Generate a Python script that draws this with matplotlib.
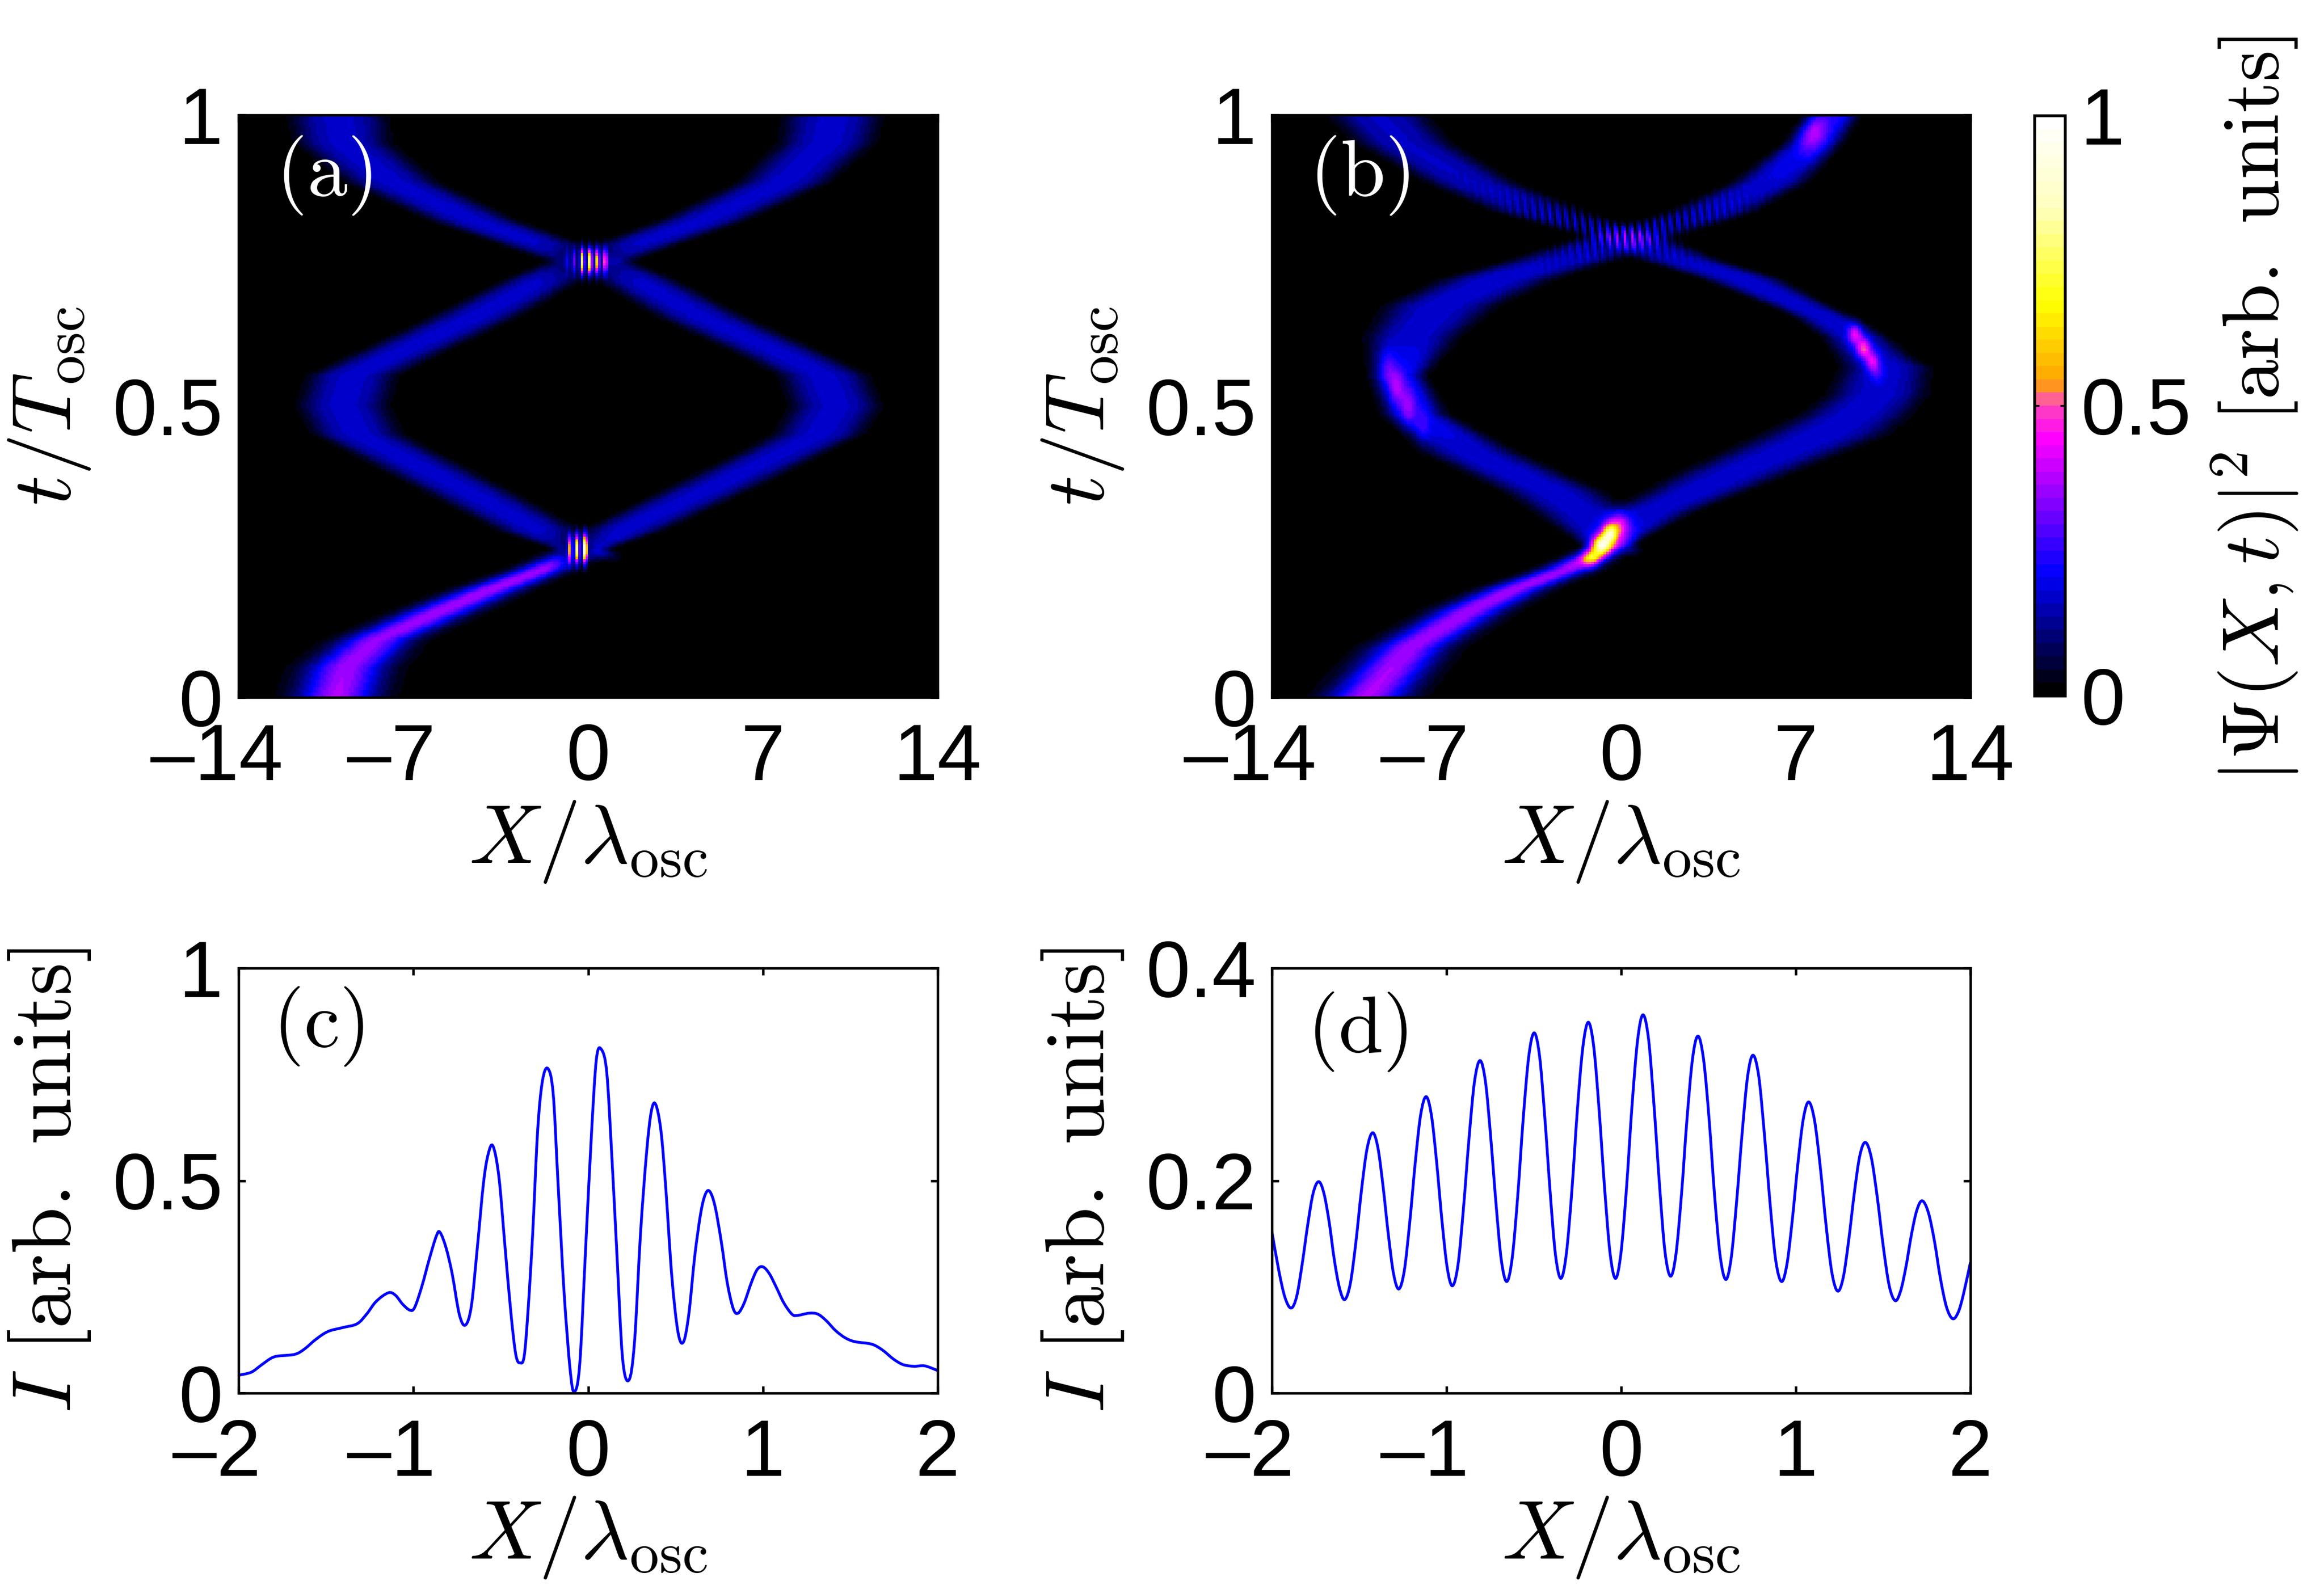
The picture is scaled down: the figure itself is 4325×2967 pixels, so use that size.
# Density maps (a,b) and intensity cuts (c,d)
import numpy as np
import matplotlib
matplotlib.use('Agg')
import matplotlib.pyplot as plt
from matplotlib.colors import LinearSegmentedColormap
from matplotlib.patches import PathPatch
from matplotlib.path import Path
from matplotlib.transforms import ScaledTranslation

W, H = 4325, 2967
plt.rcParams['font.family'] = ['Liberation Sans', 'DejaVu Sans']
plt.rcParams['mathtext.fontset'] = 'cm'

# colour bar: position, colour
bar_pos = [0, .205, .443, .496, .518, .54, .68, .85, 1]
bar_col = [(0, 0, 0), (0, 0, 1), (1, 0, 1), (1, .25, .75), (1, .44, .5),
           (1, .63, 0), (1, 1, 0), (1, 1, .75), (1, 1, 1)]

# panel (a) ridges. The profile across them is an approximation
a1_t = [0, .05, .097, .15, .184, .218, .245, .254, .285, .352, .419, .452, .5, .553, .586, .653, .72, .75, .82, .887, .954, 1]
a1_x = [-10.1, -9.7, -8.5, -5.75, -3.9, -1.83, -.5, -.3, 1.35, 4.6, 7.8, 9.28, 9.97, 9.47, 8.0, 4.6, 1.8, .08, -4.6, -7.9, -9.85, -10.04]
a1_s = [1.05, 1.05, .95, .9, .82, .72, .68, .7, 1.0, 1.05, 1.05, 1.08, 1.1, 1.08, 1.05, 1.05, .95, 1.0, 1.05, 1.1, 1.15, 1.2]
a1_a = [.37, .36, .35, .36, .36, .36, .34, .2, .165, .165, .165, .165, .165, .165, .165, .165, .165, .165, .165, .165, .165, .165]
a2_t = [.23, .254, .285, .352, .419, .452, .5, .553, .586, .653, .72, .75, .82, .887, .954, 1]
a2_x = [.8, -.3, -1.9, -4.8, -7.8, -9.28, -9.86, -9.47, -7.9, -4.6, -1.7, .08, 4.6, 7.9, 9.6, 9.84]
a2_s = [.6, .7, 1.0, 1.05, 1.05, 1.08, 1.1, 1.08, 1.05, 1.05, .95, 1.0, 1.05, 1.1, 1.15, 1.2]
a2_a = [0, .165, .165, .165, .165, .165, .165, .165, .165, .165, .165, .165, .165, .165, .165, .165]
# bright fringes: X, t, width in X, width in t, height
a_spot_x = [-.74, -.44, -.12, -.84, -.56, -.24, .07, .37, .69]
a_spot_t = [.254, .254, .254, .75, .75, .75, .75, .75, .75]
a_spot_sx = [.06] * 9
a_spot_st = [.016, .016, .016, .015, .015, .015, .015, .015, .015]
a_spot_a = [.5, .78, 1.0, .12, .25, .75, .8, .6, .45]
# dark gaps between fringes: X, t, width in X, width in t
a_gap_x = [-.4, -.07]
a_gap_t = [.254, .75]
a_gap_sx = [.6, .85]
a_gap_st = [.024, .024]

# panel (b) ridges
b1_t = [0, .084, .15, .184, .218, .238, .258, .318, .385, .452, .486, .519, .566, .586, .62, .653, .673, .72, .753, .794, .834, .887, .954, 1]
b1_x = [-10.2, -8.5, -5.95, -4.3, -2.2, -1.3, -.6, 1.2, 4.6, 8.2, 9.45, 10.3, 10.65, 10.15, 9.4, 8.2, 7.2, 4.8, 2.3, .1, -3.15, -6.1, -8.75, -9.77]
b1_s = [1.05, .98, .9, .8, .7, .6, .55, 1.08, 1.37, 1.54, 1.31, 1.2, 1.08, .91, .8, .74, .74, .97, .97, 1.03, 1.14, 1.08, 1.14, 1.2]
b1_a = [.37, .36, .36, .36, .36, .4, .2, .17, .17, .17, .17, .17, .17, .17, .17, .17, .17, .17, .17, .17, .16, .16, .16, .16]
b2_t = [.24, .26, .318, .352, .419, .486, .553, .62, .673, .72, .753, .794, .834, .887, .954, 1]
b2_x = [.2, -.4, -1.6, -2.7, -6, -8.3, -9, -8.4, -7.25, -4.9, -2.2, .4, 3.55, 6, 7.75, 8.5]
b2_s = [.5, .68, 1.14, 1.2, 1.14, .8, .68, 1.14, 1.37, 1.37, 1.31, 1.2, 1.08, .91, .71, .63]
b2_a = [0, .18, .17, .17, .17, .2, .22, .17, .17, .17, .17, .17, .17, .18, .21, .24]
b_spot_x = [-1.2, -.78, -.45, -.1, -9.4, -9.02, -8.56, -8.0, 9.4, 9.75, 10.1, 10.3, 7.9, 7.5]
b_spot_t = [.24, .26, .28, .295, .566, .532, .499, .465, .624, .6, .578, .558, .976, .96]
b_spot_sx = [.25, .25, .2, .3, .22, .22, .22, .22, .2, .2, .2, .2, .3, .3]
b_spot_st = [.012, .012, .011, .014, .022, .022, .022, .022, .012, .012, .012, .012, .02, .02]
b_spot_a = [.3, .55, .45, .2, .1, .16, .15, .08, .26, .32, .24, .1, .12, .1]
# interference stripes near the upper crossing
stripe_period = .32
stripe_x0 = -.2
stripe_t0 = .82
stripe_tilt = -3.0
stripe_sx = 2.8
stripe_st = .036

# panel (c) readings
c_x = [-2, -1.928, -1.873, -1.818, -1.777, -1.68, -1.625, -1.556, -1.488, -1.405, -1.322, -1.267, -1.212, -1.143, -1.102,
       -1.061, -1.019, -.992, -.95, -.909, -.868, -.847, -.813, -.778, -.737, -.702, -.668, -.634, -.599, -.572, -.544,
       -.51, -.475, -.441, -.413, -.388, -.365, -.342, -.317, -.289, -.262, -.231, -.2, -.172, -.138, -.103, -.079, -.048,
       -.014, .02, .048, .077, .107, .135, .163, .197, .234, .266, .3, .335, .362, .387, .417, .445, .479, .514, .545,
       .576, .61, .645, .672, .697, .727, .762, .796, .83, .858, .893, .934, .968, 1.0, 1.037, 1.079, 1.12, 1.168,
       1.202, 1.264, 1.313, 1.361, 1.416, 1.471, 1.526, 1.623, 1.685, 1.747, 1.802, 1.864, 1.926, 2.0]
c_i = [.042, .049, .065, .081, .087, .091, .103, .127, .145, .154, .163, .186, .216, .236, .23,
       .209, .195, .202, .253, .315, .37, .378, .342, .281, .185, .16, .205, .342, .493, .562, .581,
       .507, .342, .185, .089, .071, .089, .205, .377, .616, .733, .764, .705, .493, .24, .055, .003, .068,
       .342, .616, .788, .808, .753, .562, .342, .082, .031, .123, .377, .568, .664, .679, .616, .479, .274, .144, .12,
       .185, .322, .425, .469, .474, .438, .356, .26, .199, .188, .212, .26, .291, .297, .281, .247, .212, .185,
       .183, .188, .186, .171, .147, .13, .121, .115, .101, .08, .067, .063, .064, .053]

# panel (d) readings
d_x = [-2, -1.96, -1.925, -1.89, -1.858, -1.827, -1.795, -1.764, -1.732, -1.702, -1.672, -1.643, -1.613, -1.583,
       -1.551, -1.519, -1.487, -1.455, -1.423, -1.393, -1.363, -1.333, -1.303, -1.273, -1.242, -1.211, -1.179, -1.148,
       -1.117, -1.087, -1.057, -1.026, -.996, -.966, -.934, -.903, -.871, -.84, -.808, -.777, -.747, -.716, -.686,
       -.655, -.624, -.592, -.561, -.529, -.498, -.467, -.437, -.406, -.376, -.345, -.314, -.282, -.251, -.219,
       -.188, -.157, -.126, -.094, -.063, -.032, -.001, .031, .062, .094, .125, .157, .188, .22, .251, .283,
       .314, .346, .377, .409, .44, .472, .504, .535, .567, .599, .63, .661, .693, .724, .755, .788, .82, .853, .885,
       .918, .949, .98, 1.012, 1.043, 1.074, 1.107, 1.14, 1.174, 1.207, 1.24, 1.272, 1.303, 1.335, 1.366, 1.398,
       1.432, 1.466, 1.501, 1.535, 1.569, 1.6, 1.631, 1.662, 1.693, 1.724, 1.759, 1.794, 1.828, 1.863, 1.898,
       1.93, 1.96, 2.0]
d_i = [.152, .115, .09, .08, .091, .121, .158, .188, .199, .188, .161, .126, .099, .088,
       .103, .142, .191, .23, .245, .231, .194, .149, .112, .098, .115, .16, .217, .262,
       .279, .262, .218, .162, .118, .101, .121, .174, .24, .293, .313, .293, .241, .177, .125,
       .105, .127, .186, .258, .317, .339, .317, .259, .188, .13, .108, .131, .191, .266, .326,
       .349, .326, .266, .191, .131, .108, .132, .194, .27, .332, .356, .333, .271, .195, .133, .11,
       .131, .188, .258, .315, .336, .314, .257, .186, .129, .107, .127, .18, .245, .298, .318, .298, .244, .178, .125,
       .105, .121, .163, .216, .258, .274, .257, .213, .157, .113, .096, .109, .144, .188, .223, .236,
       .222, .185, .138, .101, .087, .096, .119, .149, .172, .181, .17, .143, .108, .081, .07,
       .076, .093, .123]

x_ticks_map = [-14, -7, 0, 7, 14]
x_ticks_cut = [-2, -1, 0, 1, 2]
FS = 35.5
LS = 37.5
LW = 1.1


def ridge(XX, TT, t, x, s, a):
    c = np.interp(TT, t, x)
    w = np.interp(TT, t, s)
    h = np.interp(TT, t, a, left=0, right=0)
    # the faint blue bands are flatter on top than the bright incoming one
    p = np.where(h > .25, 2.0, 3.2)
    return h * np.exp(-(np.abs(XX - c) / (1.414 * w)) ** p)


def blob(XX, TT, x, t, sx, st):
    return np.exp(-(XX - x) ** 2 / (2 * sx ** 2) - (TT - t) ** 2 / (2 * st ** 2))


def axes_px(x0, y0, x1, y1):
    return fig.add_axes([x0 / W, 1 - y1 / H, (x1 - x0) / W, (y1 - y0) / H])


def style(ax, xt, yt, ylabels):
    ax.set_xticks(xt)
    ax.set_xticklabels([str(v).replace('-', '–') for v in xt], fontsize=FS)
    ax.set_yticks(yt)
    ax.set_yticklabels(ylabels, fontsize=FS)
    ax.tick_params(direction='in', top=True, right=True, length=3.2, width=LW)
    ax.tick_params(axis='x', pad=11)
    ax.tick_params(axis='y', pad=7)
    for sp in ax.spines.values():
        sp.set_linewidth(LW)
    # the minus hangs out to the left, digits stay centred on the tick
    shift = ScaledTranslation(-41 / 300, 0, fig.dpi_scale_trans)
    for lab, v in zip(ax.get_xticklabels(), xt):
        if v < 0:
            lab.set_transform(lab.get_transform() + shift)


def smooth_line(ax, x, y):
    # curve through the read points, drawn by the library as bezier segments
    pts = np.column_stack([x, y])
    prev = np.vstack([pts[0], pts[:-1]])
    nxt = np.vstack([pts[1:], pts[-1]])
    hand = (nxt - prev) / 6
    verts = [pts[0]]
    codes = [Path.MOVETO]
    for i in range(len(pts) - 1):
        verts += [pts[i] + hand[i], pts[i + 1] - hand[i + 1], pts[i + 1]]
        codes += [Path.CURVE4] * 3
    ax.add_patch(PathPatch(Path(verts, codes), fill=False, edgecolor='#0000ff', lw=1.25))


# grid of the map cells
xg = np.linspace(-14, 14, 280)
tg = np.linspace(0, 1, 232)
XX, TT = np.meshgrid(xg, tg)

field_a = ridge(XX, TT, a1_t, a1_x, a1_s, a1_a) + ridge(XX, TT, a2_t, a2_x, a2_s, a2_a)
for i in range(len(a_gap_x)):
    field_a *= 1 - .92 * blob(XX, TT, a_gap_x[i], a_gap_t[i], a_gap_sx[i], a_gap_st[i])
for i in range(len(a_spot_x)):
    field_a += a_spot_a[i] * blob(XX, TT, a_spot_x[i], a_spot_t[i], a_spot_sx[i], a_spot_st[i])

field_b = ridge(XX, TT, b1_t, b1_x, b1_s, b1_a) + ridge(XX, TT, b2_t, b2_x, b2_s, b2_a)
env = blob(XX, TT, stripe_x0, stripe_t0, stripe_sx, stripe_st)
field_b *= (1 - .45 * env) * (1 + env * np.cos(2 * np.pi * (XX - stripe_x0 - stripe_tilt * (TT - .8)) / stripe_period))
for i in range(len(b_spot_x)):
    field_b += b_spot_a[i] * blob(XX, TT, b_spot_x[i], b_spot_t[i], b_spot_sx[i], b_spot_st[i])

cmap = LinearSegmentedColormap.from_list('bar', list(zip(bar_pos, bar_col)), N=44)

fig = plt.figure(figsize=(W / 300, H / 300), dpi=300)

ax_a = axes_px(444, 214, 1745, 1298)
ax_b = axes_px(2367, 214, 3667, 1298)
ax_c = axes_px(444, 1802, 1745, 2593)
ax_d = axes_px(2367, 1802, 3667, 2593)
cax = axes_px(3786, 215, 3843, 1295)

for ax, field, name, px in ((ax_a, field_a, '(a)', .122), (ax_b, field_b, '(b)', .125)):
    im = ax.imshow(field, origin='lower', extent=[-14, 14, 0, 1], aspect='auto',
                   cmap=cmap, vmin=0, vmax=1, interpolation='nearest')
    style(ax, x_ticks_map, [0, .5, 1], ['0', '0.5', '1'])
    ax.set_xlabel(r'$X/\lambda_{\mathrm{osc}}$', fontsize=LS, labelpad=1)
    ax.set_ylabel(r'$t/T_{\mathrm{osc}}$', fontsize=LS, labelpad=9)
    ax.text(px, .897, r'$\mathrm{%s}$' % name, transform=ax.transAxes, color='white',
            fontsize=36, ha='center', va='center')

smooth_line(ax_c, c_x, c_i)
ax_c.set_xlim(-2, 2)
ax_c.set_ylim(0, 1)
style(ax_c, x_ticks_cut, [0, .5, 1], ['0', '0.5', '1'])
smooth_line(ax_d, d_x, d_i)
ax_d.set_xlim(-2, 2)
ax_d.set_ylim(0, .4)
style(ax_d, x_ticks_cut, [0, .2, .4], ['0', '0.2', '0.4'])
for ax, name, px, py in ((ax_c, '(c)', .114, .863), (ax_d, '(d)', .122, .851)):
    ax.set_xlabel(r'$X/\lambda_{\mathrm{osc}}$', fontsize=LS, labelpad=1)
    ax.set_ylabel(r'$I\ [\mathrm{arb.\ units}]$', fontsize=LS, labelpad=9)
    ax.text(px, py, r'$\mathrm{%s}$' % name, transform=ax.transAxes, fontsize=36,
            ha='center', va='center')

cb = plt.colorbar(im, cax=cax)
cb.set_ticks([0, .5, 1])
cb.set_ticklabels(['0', '0.5', '1'])
cb.ax.tick_params(direction='in', left=True, right=True, length=2.2, width=.8, labelsize=FS, pad=7)
cb.outline.set_linewidth(1.3)
fig.text(4196 / W, 1 - 762 / H, r'$|\Psi(X,t)|^2\ [\mathrm{arb.\ units}]$', fontsize=35.8,
         rotation=90, ha='center', va='center')

fig.savefig('out.png', dpi=300)
